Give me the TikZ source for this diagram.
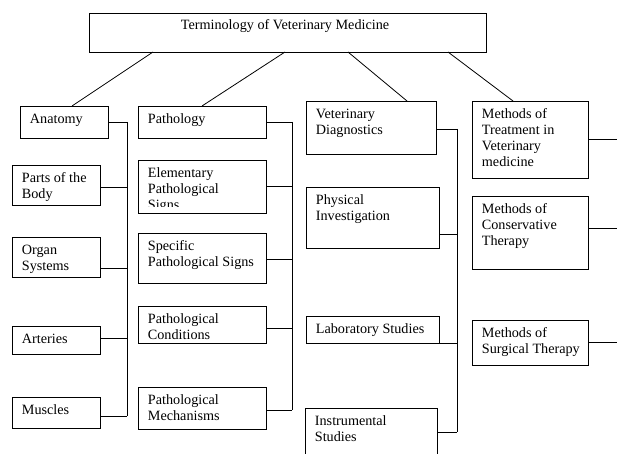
\documentclass[tikz,border=0pt]{standalone}
\usepackage{fontspec}
\setmainfont{Liberation Serif}

\begin{document}
\begin{tikzpicture}[x=1pt,y=-1pt,line width=0.8pt,
  cell/.style={draw, anchor=north west, inner sep=0pt, outer sep=0pt},
  txt/.style={anchor=north west, inner sep=0pt, align=left, font=\fontsize{14.2}{16}\selectfont}]
\clip (0,0) rectangle (617,454);

% top box
\node[cell, minimum width=397pt, minimum height=39pt] (top) at (89,13) {};
\node[anchor=base, inner sep=0pt, font=\fontsize{14.2}{16}\selectfont] (top-t) at ([shift={(196,17)}]top.north west) {Terminology of Veterinary Medicine};

% anatomy column
\node[cell, minimum width=88pt, minimum height=32pt] (anat) at (20,106) {};
\node[txt] (anat-t) at ([shift={(9.5,6.3)}]anat.north west) {\strut Anatomy};
\node[cell, minimum width=88pt, minimum height=40pt] (body) at (12,165) {};
\begin{scope}
  \clip (body.north west) rectangle ([shift={(0,-5)}]body.south east);
  \node[txt] (body-t) at ([shift={(9.5,6.3)}]body.north west) {\strut Parts of the\\Body};
\end{scope}
\node[cell, minimum width=88pt, minimum height=40pt] (organ) at (12,237) {};
\node[txt] (organ-t) at ([shift={(9.5,6.3)}]organ.north west) {\strut Organ\\Systems};
\node[cell, minimum width=88pt, minimum height=28pt] (arter) at (12,326) {};
\node[txt] (arter-t) at ([shift={(9.5,6.3)}]arter.north west) {\strut Arteries};
\node[cell, minimum width=88pt, minimum height=31pt] (musc) at (12,397) {};
\node[txt] (musc-t) at ([shift={(9.5,6.3)}]musc.north west) {\strut Muscles};

% pathology column
\node[cell, minimum width=128pt, minimum height=32pt] (patho) at (138,106) {};
\node[txt] (patho-t) at ([shift={(9.5,6.3)}]patho.north west) {\strut Pathology};
\node[cell, minimum width=128pt, minimum height=53pt] (elem) at (138,160) {};
\begin{scope}
  \clip (elem.north west) rectangle ([shift={(0,-7)}]elem.south east);
  \node[txt] (elem-t) at ([shift={(9.5,6.3)}]elem.north west) {\strut Elementary\\Pathological\\Signs};
\end{scope}
\node[cell, minimum width=128pt, minimum height=50pt] (spec) at (138,233) {};
\node[txt] (spec-t) at ([shift={(9.5,6.3)}]spec.north west) {\strut Specific\\Pathological Signs};
\node[cell, minimum width=128pt, minimum height=37pt] (cond) at (138,306) {};
\node[txt] (cond-t) at ([shift={(9.5,6.3)}]cond.north west) {\strut Pathological\\Conditions};
\node[cell, minimum width=128pt, minimum height=42pt] (mech) at (138,387) {};
\node[txt] (mech-t) at ([shift={(9.5,6.3)}]mech.north west) {\strut Pathological\\Mechanisms};

% diagnostics column
\node[cell, minimum width=130pt, minimum height=53pt] (diag) at (306,101) {};
\node[txt] (diag-t) at ([shift={(9.5,6.3)}]diag.north west) {\strut Veterinary\\Diagnostics};
\node[cell, minimum width=133pt, minimum height=61pt] (phys) at (306,187) {};
\node[txt] (phys-t) at ([shift={(9.5,6.3)}]phys.north west) {\strut Physical\\Investigation};
\node[cell, minimum width=133pt, minimum height=27pt] (lab) at (306,316) {};
\node[txt] (lab-t) at ([shift={(9.5,6.3)}]lab.north west) {\strut Laboratory Studies};
\node[cell, minimum width=132pt, minimum height=48pt] (instr) at (305,408) {};
\node[txt] (instr-t) at ([shift={(9.5,6.3)}]instr.north west) {\strut Instrumental\\Studies};

% treatment column
\node[cell, minimum width=116pt, minimum height=77pt] (treat) at (472,101) {};
\node[txt] (treat-t) at ([shift={(9.5,6.3)}]treat.north west) {\strut Methods of\\Treatment in\\Veterinary\\medicine};
\node[cell, minimum width=116pt, minimum height=73pt] (cons) at (472,196) {};
\node[txt] (cons-t) at ([shift={(9.5,6.3)}]cons.north west) {\strut Methods of\\Conservative\\Therapy};
\node[cell, minimum width=116pt, minimum height=45pt] (surg) at (472,320) {};
\node[txt] (surg-t) at ([shift={(9.5,6.3)}]surg.north west) {\strut Methods of\\Surgical Therapy};

% from the top box
\draw ([xshift=64pt]top.south west) -- ([xshift=52pt]anat.north west);
\draw ([xshift=196pt]top.south west) -- (patho.north);
\draw ([xshift=259pt]top.south west) -- ([xshift=101pt]diag.north west);
\draw ([xshift=359pt]top.south west) -- ([xshift=41pt]treat.north west);

\coordinate (busA) at (127,0);
\coordinate (busB) at (292,0);
\coordinate (busC) at (457,0);
\coordinate (edge) at (617,0);

% anatomy bus
\draw (anat.east) coordinate (a1) -- (a1 -| busA);
\draw ([yshift=-2pt]body.east) coordinate (a2) -- (a2 -| busA);
\draw ([yshift=-11pt]organ.east) coordinate (a3) -- (a3 -| busA);
\draw ([yshift=2pt]arter.east) coordinate (a4) -- (a4 -| busA);
\draw ([yshift=-3.5pt]musc.east) coordinate (a5) -- (a5 -| busA);
\draw (a1 -| busA) -- (a5 -| busA);

% pathology bus
\draw (patho.east) coordinate (b1) -- (b1 -| busB);
\draw (elem.east) coordinate (b2) -- (b2 -| busB);
\draw ([yshift=-1pt]spec.east) coordinate (b3) -- (b3 -| busB);
\draw ([yshift=-3.5pt]cond.east) coordinate (b4) -- (b4 -| busB);
\draw ([yshift=-2pt]mech.east) coordinate (b5) -- (b5 -| busB);
\draw (b1 -| busB) -- (b5 -| busB);

% diagnostics bus
\draw ([yshift=-1.5pt]diag.east) coordinate (c1) -- (c1 -| busC);
\draw ([yshift=-16.5pt]phys.east) coordinate (c2) -- (c2 -| busC);
\draw (lab.south east) coordinate (c3) -- (c3 -| busC);
\draw (instr.east) coordinate (c4) -- (c4 -| busC);
\draw (c1 -| busC) -- (c4 -| busC);

% treatment links
\draw (treat.east) coordinate (d1) -- (d1 -| edge);
\draw ([yshift=4.5pt]cons.east) coordinate (d2) -- (d2 -| edge);
\draw (surg.east) coordinate (d3) -- (d3 -| edge);
\end{tikzpicture}
\end{document}
